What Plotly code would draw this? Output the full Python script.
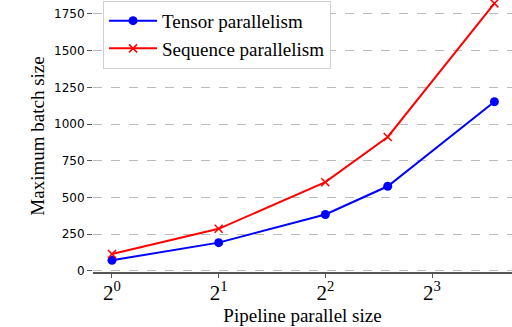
import plotly.graph_objects as go
import numpy as np

pipeline_size = [1, 2, 4, 6, 12]
tensor_parallel = [72, 192, 384, 576, 1152]
sequence_parallel = [114, 286, 604, 912, 1822]
x_tick_vals = [1, 2, 4, 8]
x_tick_text = ["2<sup>0</sup>", "2<sup>1</sup>", "2<sup>2</sup>", "2<sup>3</sup>"]
y_tick_vals = [0, 250, 500, 750, 1000, 1250, 1500, 1750]

serif = "Liberation Serif"

fig = go.Figure()
fig.add_trace(go.Scatter(
    x=pipeline_size, y=tensor_parallel, name="Tensor parallelism",
    mode="lines+markers", line=dict(color="blue", width=2),
    marker=dict(symbol="circle", size=9, color="blue"),
))
fig.add_trace(go.Scatter(
    x=pipeline_size, y=sequence_parallel, name="Sequence parallelism",
    mode="lines+markers", line=dict(color="red", width=2),
    marker=dict(symbol="x-thin", size=8, line=dict(color="red", width=1.5), color="red"),
))

lo = np.log10(2) * -0.178
hi = np.log10(2) * 3.75
fig.update_layout(
    width=512, height=327,
    margin=dict(l=93, r=0, t=0, b=55),
    plot_bgcolor="white", paper_bgcolor="white",
    showlegend=True,
    legend=dict(
        x=0.024, y=0.997, xanchor="left", yanchor="top",
        bgcolor="white", bordercolor="#d0d0d0", borderwidth=1,
        font=dict(family=serif, size=19, color="black"),
        itemwidth=48,
    ),
    xaxis=dict(
        type="log", range=[lo, hi],
        tickvals=x_tick_vals, ticktext=x_tick_text,
        tickfont=dict(family=serif, size=21, color="black"),
        ticks="outside", ticklen=4, tickcolor="#555", tickwidth=1,
        ticklabelstandoff=-3,
        showgrid=False, zeroline=False,
        showline=True, linecolor="#555", linewidth=1.5,
        title=dict(text="Pipeline parallel size", font=dict(family=serif, size=19, color="black"), standoff=0),
    ),
    yaxis=dict(
        range=[-8, 1845],
        tickvals=y_tick_vals,
        tickfont=dict(family="DejaVu Sans", size=12, color="black"),
        ticks="outside", ticklen=5, tickcolor="#555", tickwidth=1,
        showgrid=True, gridcolor="#bbbbbb", griddash="dash", gridwidth=1,
        zeroline=False, showline=False,
        title=dict(text="Maximum batch size", font=dict(family=serif, size=19, color="black"), standoff=4),
    ),
)
fig.write_html("out.html")
